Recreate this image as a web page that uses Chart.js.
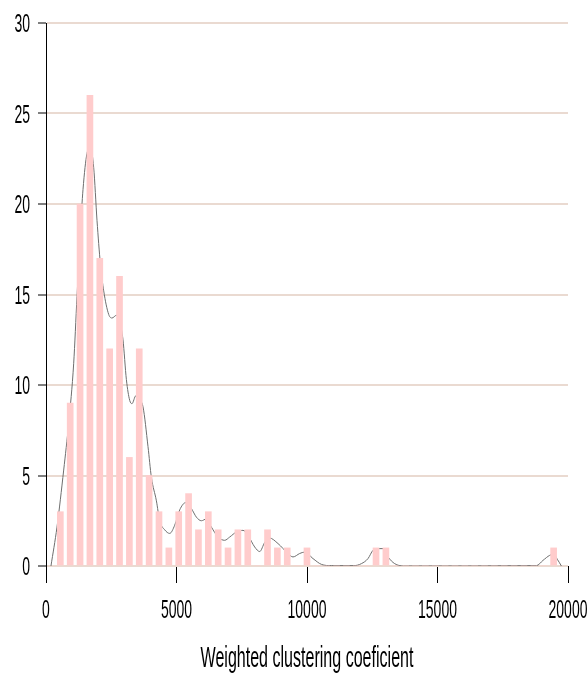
<!DOCTYPE html>
<html>
<head>
<meta charset="utf-8">
<title>Weighted clustering coeficient</title>
<script src="https://cdn.jsdelivr.net/npm/chart.js@4"></script>
<style>
  html, body { margin: 0; padding: 0; background: #fff; }
  canvas { display: block; }
</style>
</head>
<body>
<canvas id="hist" width="588" height="681"></canvas>
<script>
// histogram bins (uniform width) and counts per bin
const binStart = 360;
const binWidth = 378;
const binCounts = [
  3, 9, 20, 26, 17, 12, 16, 6, 12, 5,
  3, 1, 3, 4, 2, 3, 2, 1, 2, 2,
  0, 2, 1, 1, 0, 1, 0, 0, 0, 0,
  0, 0, 1, 1, 0, 0, 0, 0, 0, 0,
  0, 0, 0, 0, 0, 0, 0, 0, 0, 0,
  1
];

// kernel density curve, scaled to counts
const densityX = [
  190, 421, 678, 870, 1061, 1188, 1317, 1418, 1571, 1700,
  1828, 1954, 2084, 2211, 2402, 2529, 2697, 2820, 2950, 3080,
  3207, 3295, 3440, 3560, 3716, 3908, 4038, 4230, 4356, 4548,
  4739, 4931, 5123, 5350, 5571, 5762, 5954, 6146, 6337, 6590,
  6847, 7038, 7295, 7548, 7739, 7996, 8188, 8379, 8560, 8889,
  9272, 9464, 9720, 9912, 10230, 10552, 10935, 11800, 12084, 12337,
  12529, 12720, 12912, 13103, 13360, 13700, 18789, 19042, 19299, 19440,
  19600, 19747
];
const densityY = [
  0, 2.15, 5.3, 7.9, 11.2, 14.9, 18.5, 20.8, 22.8, 23.1,
  22.0, 19.1, 16.7, 15.2, 13.9, 13.7, 13.85, 13.5, 12.5, 10.3,
  9.15, 8.97, 9.4, 9.2, 8.8, 6.6, 4.9, 3.6, 2.5, 2.0,
  1.8, 2.25, 3.1, 3.5, 3.17, 2.7, 2.5, 2.6, 2.15, 1.6,
  1.42, 1.6, 1.88, 1.97, 1.7, 1.05, 0.8, 1.3, 1.55, 1.24,
  0.69, 0.5, 0.69, 0.77, 0.41, 0.09, 0.02, 0.02, 0.13, 0.41,
  0.87, 0.96, 0.96, 0.5, 0.13, 0, 0.02, 0.31, 0.59, 0.65,
  0.35, 0
];

const xTicks = [0, 5000, 10000, 15000, 20000];
const yTicks = [0, 5, 10, 15, 20, 25, 30];
const xTitle = 'Weighted clustering coeficient';

const histData = binCounts.map((c, i) => ({ x: binStart + binWidth * (i + 0.5), y: c }));
const densData = densityX.map((x, i) => ({ x: x, y: densityY[i] }));

// condensed text: regular face squeezed horizontally
const FONT = '"Liberation Sans", Arial, sans-serif';

function squeezedText(ctx, text, x, y, align, sx) {
  ctx.save();
  ctx.translate(x, y);
  ctx.scale(sx, 1);
  ctx.textAlign = align;
  ctx.fillText(text, 0, 0);
  ctx.restore();
}

const axisText = {
  id: 'axisText',
  afterDraw(chart) {
    const { ctx, scales: { x, y } } = chart;
    ctx.save();
    ctx.fillStyle = '#000';
    ctx.textBaseline = 'alphabetic';
    ctx.font = '25px ' + FONT;
    yTicks.forEach(v => squeezedText(ctx, String(v), 30, y.getPixelForValue(v) + 9, 'right', 0.56));
    xTicks.forEach(v => squeezedText(ctx, String(v), x.getPixelForValue(v), 618, 'center', 0.56));
    ctx.font = '30px ' + FONT;
    squeezedText(ctx, xTitle, (chart.chartArea.left + chart.chartArea.right) / 2, 667, 'center', 0.535);
    ctx.restore();
  }
};

new Chart(document.getElementById('hist').getContext('2d'), {
  type: 'bar',
  data: {
    datasets: [
      {
        type: 'bar',
        data: histData,
        backgroundColor: '#ffcccc',
        borderWidth: 0,
        barThickness: 6,
        order: 0
      },
      {
        type: 'line',
        data: densData,
        borderColor: '#6e6e6e',
        borderWidth: 1,
        pointRadius: 0,
        fill: false,
        cubicInterpolationMode: 'monotone',
        order: 1
      }
    ]
  },
  options: {
    responsive: false,
    animation: false,
    events: [],
    layout: { padding: { top: 23, right: 20, bottom: 0, left: 0 } },
    scales: {
      x: {
        type: 'linear',
        min: 0,
        max: 20000,
        offset: false,
        afterFit: s => { s.height = 115; },
        afterBuildTicks: s => { s.ticks = xTicks.map(v => ({ value: v })); },
        ticks: { display: false },
        border: { display: false },
        grid: {
          offset: false,
          drawOnChartArea: false,
          drawTicks: true,
          tickLength: 17,
          tickColor: '#000',
          tickWidth: 1
        }
      },
      y: {
        min: 0,
        max: 30,
        afterFit: s => { s.width = 46; },
        afterBuildTicks: s => { s.ticks = yTicks.map(v => ({ value: v })); },
        ticks: { display: false },
        border: { display: true, color: '#000', width: 1 },
        grid: {
          color: '#eadad1',
          lineWidth: 2,
          drawTicks: true,
          tickLength: 8,
          tickColor: '#000',
          tickWidth: 1
        }
      }
    },
    plugins: {
      legend: { display: false },
      tooltip: { enabled: false }
    }
  },
  plugins: [axisText]
});
</script>
</body>
</html>
